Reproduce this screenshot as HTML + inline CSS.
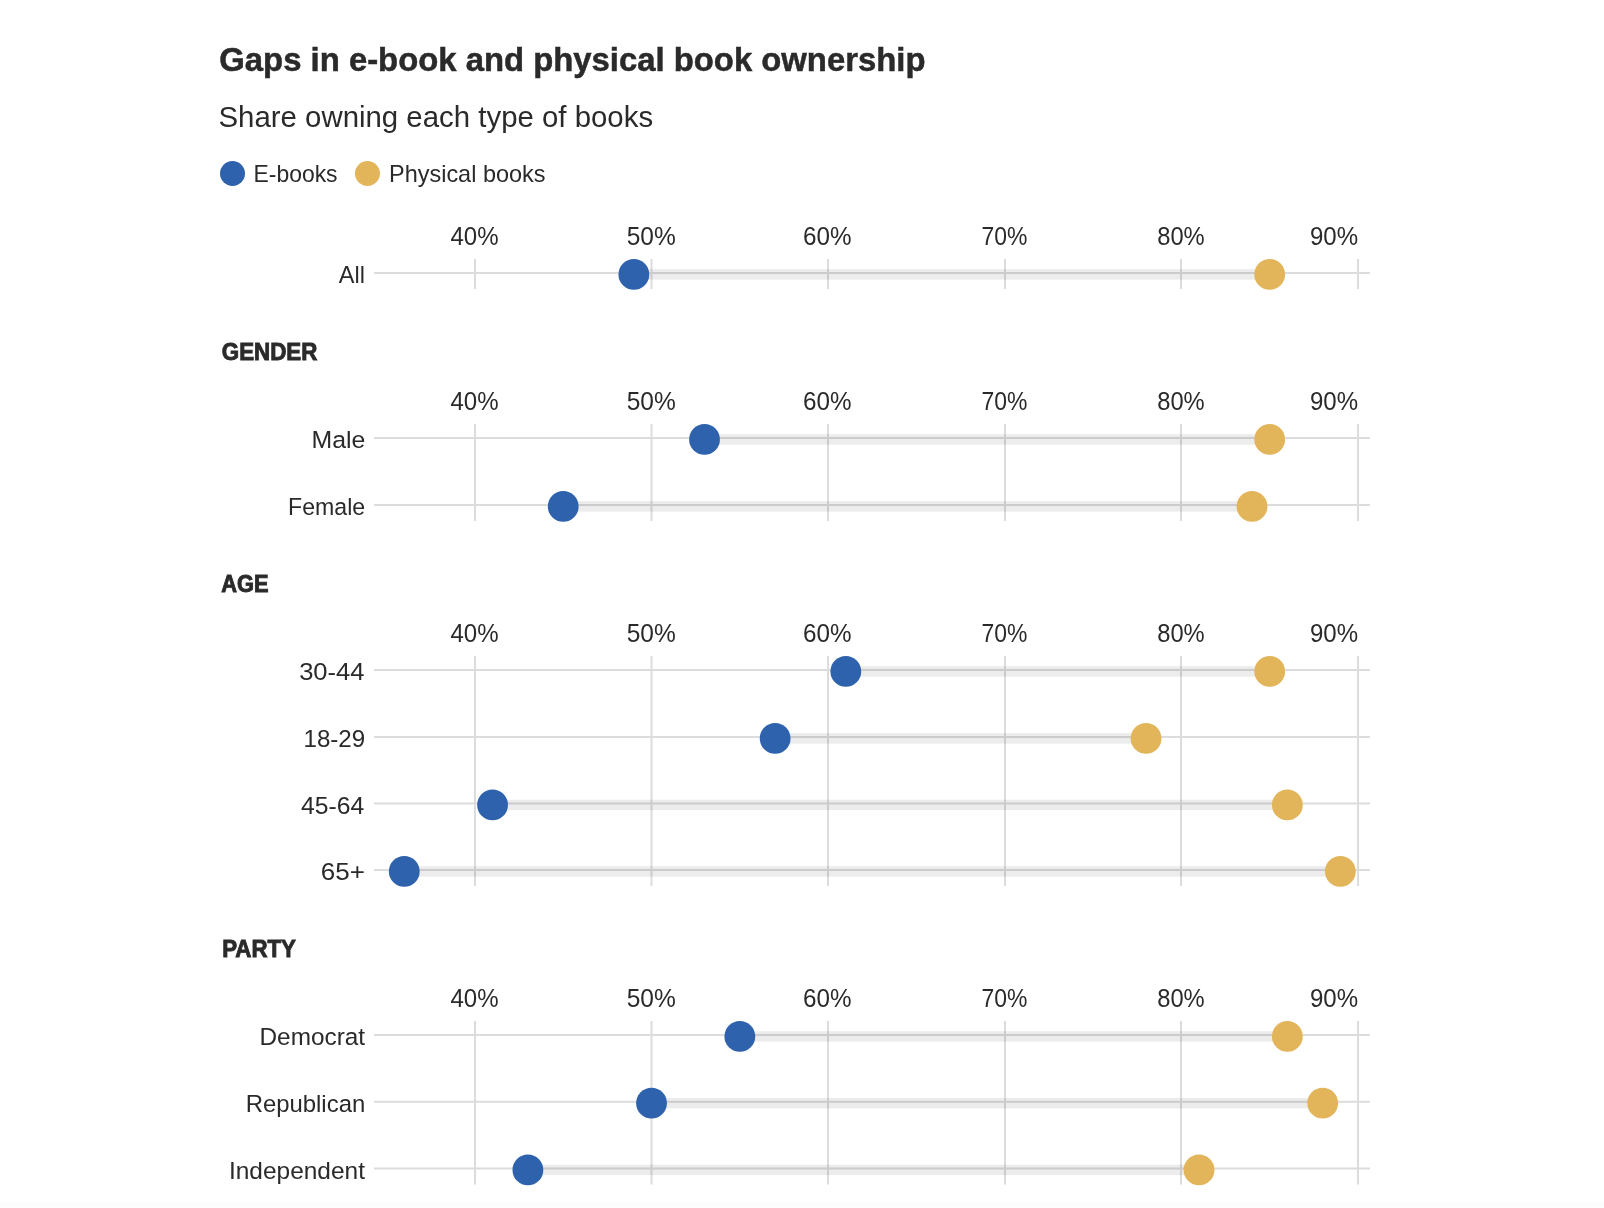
<!DOCTYPE html><html><head><meta charset="utf-8"><style>html,body{margin:0;padding:0;background:#fff;}svg{display:block;will-change:transform;}text{font-family:"Liberation Sans",sans-serif;fill:#2a2a2a;}</style></head><body>
<svg width="1604" height="1208" viewBox="0 0 1604 1208">
<rect width="1604" height="1208" fill="#fff"/><rect y="1202" width="1604" height="6" fill="#fcfcfc"/>
<circle cx="232.5" cy="173.5" r="12.5" fill="#2e62ad"/>
<circle cx="367.45" cy="173.5" r="12.5" fill="#e2b55a"/>
<rect x="474.00" y="259.00" width="2" height="30.00" fill="#dcdcdc"/>
<rect x="650.50" y="259.00" width="2" height="30.00" fill="#dcdcdc"/>
<rect x="827.00" y="259.00" width="2" height="30.00" fill="#dcdcdc"/>
<rect x="1004.00" y="259.00" width="2" height="30.00" fill="#dcdcdc"/>
<rect x="1180.00" y="259.00" width="2" height="30.00" fill="#dcdcdc"/>
<rect x="1357.00" y="259.00" width="2" height="30.00" fill="#dcdcdc"/>
<rect x="374" y="272.00" width="996" height="2" fill="#dcdcdc"/>
<rect x="633.86" y="269.15" width="635.83" height="10.5" fill="rgba(0,0,0,0.075)"/>
<circle cx="633.86" cy="274.40" r="15.4" fill="#2e62ad"/>
<circle cx="1269.69" cy="274.40" r="15.4" fill="#e2b55a"/>
<rect x="474.00" y="424.00" width="2" height="97.00" fill="#dcdcdc"/>
<rect x="650.50" y="424.00" width="2" height="97.00" fill="#dcdcdc"/>
<rect x="827.00" y="424.00" width="2" height="97.00" fill="#dcdcdc"/>
<rect x="1004.00" y="424.00" width="2" height="97.00" fill="#dcdcdc"/>
<rect x="1180.00" y="424.00" width="2" height="97.00" fill="#dcdcdc"/>
<rect x="1357.00" y="424.00" width="2" height="97.00" fill="#dcdcdc"/>
<rect x="374" y="437.00" width="996" height="2" fill="#dcdcdc"/>
<rect x="374" y="504.00" width="996" height="2" fill="#dcdcdc"/>
<rect x="704.51" y="434.15" width="565.18" height="10.5" fill="rgba(0,0,0,0.075)"/>
<circle cx="704.51" cy="439.40" r="15.4" fill="#2e62ad"/>
<circle cx="1269.69" cy="439.40" r="15.4" fill="#e2b55a"/>
<rect x="563.21" y="501.15" width="688.82" height="10.5" fill="rgba(0,0,0,0.075)"/>
<circle cx="563.21" cy="506.40" r="15.4" fill="#2e62ad"/>
<circle cx="1252.03" cy="506.40" r="15.4" fill="#e2b55a"/>
<rect x="474.00" y="656.00" width="2" height="230.00" fill="#dcdcdc"/>
<rect x="650.50" y="656.00" width="2" height="230.00" fill="#dcdcdc"/>
<rect x="827.00" y="656.00" width="2" height="230.00" fill="#dcdcdc"/>
<rect x="1004.00" y="656.00" width="2" height="230.00" fill="#dcdcdc"/>
<rect x="1180.00" y="656.00" width="2" height="230.00" fill="#dcdcdc"/>
<rect x="1357.00" y="656.00" width="2" height="230.00" fill="#dcdcdc"/>
<rect x="374" y="669.00" width="996" height="2" fill="#dcdcdc"/>
<rect x="374" y="736.00" width="996" height="2" fill="#dcdcdc"/>
<rect x="374" y="802.50" width="996" height="2" fill="#dcdcdc"/>
<rect x="374" y="869.00" width="996" height="2" fill="#dcdcdc"/>
<rect x="845.80" y="666.15" width="423.89" height="10.5" fill="rgba(0,0,0,0.075)"/>
<circle cx="845.80" cy="671.40" r="15.4" fill="#2e62ad"/>
<circle cx="1269.69" cy="671.40" r="15.4" fill="#e2b55a"/>
<rect x="775.15" y="733.15" width="370.90" height="10.5" fill="rgba(0,0,0,0.075)"/>
<circle cx="775.15" cy="738.40" r="15.4" fill="#2e62ad"/>
<circle cx="1146.06" cy="738.40" r="15.4" fill="#e2b55a"/>
<rect x="492.56" y="799.65" width="794.79" height="10.5" fill="rgba(0,0,0,0.075)"/>
<circle cx="492.56" cy="804.90" r="15.4" fill="#2e62ad"/>
<circle cx="1287.35" cy="804.90" r="15.4" fill="#e2b55a"/>
<rect x="404.25" y="866.15" width="936.09" height="10.5" fill="rgba(0,0,0,0.075)"/>
<circle cx="404.25" cy="871.40" r="15.4" fill="#2e62ad"/>
<circle cx="1340.34" cy="871.40" r="15.4" fill="#e2b55a"/>
<rect x="474.00" y="1021.00" width="2" height="163.50" fill="#dcdcdc"/>
<rect x="650.50" y="1021.00" width="2" height="163.50" fill="#dcdcdc"/>
<rect x="827.00" y="1021.00" width="2" height="163.50" fill="#dcdcdc"/>
<rect x="1004.00" y="1021.00" width="2" height="163.50" fill="#dcdcdc"/>
<rect x="1180.00" y="1021.00" width="2" height="163.50" fill="#dcdcdc"/>
<rect x="1357.00" y="1021.00" width="2" height="163.50" fill="#dcdcdc"/>
<rect x="374" y="1034.00" width="996" height="2" fill="#dcdcdc"/>
<rect x="374" y="1100.80" width="996" height="2" fill="#dcdcdc"/>
<rect x="374" y="1167.50" width="996" height="2" fill="#dcdcdc"/>
<rect x="739.83" y="1031.15" width="547.52" height="10.5" fill="rgba(0,0,0,0.075)"/>
<circle cx="739.83" cy="1036.40" r="15.4" fill="#2e62ad"/>
<circle cx="1287.35" cy="1036.40" r="15.4" fill="#e2b55a"/>
<rect x="651.52" y="1097.95" width="671.16" height="10.5" fill="rgba(0,0,0,0.075)"/>
<circle cx="651.52" cy="1103.20" r="15.4" fill="#2e62ad"/>
<circle cx="1322.68" cy="1103.20" r="15.4" fill="#e2b55a"/>
<rect x="527.89" y="1164.65" width="671.16" height="10.5" fill="rgba(0,0,0,0.075)"/>
<circle cx="527.89" cy="1169.90" r="15.4" fill="#2e62ad"/>
<circle cx="1199.04" cy="1169.90" r="15.4" fill="#e2b55a"/>
<text font-size="32.4" font-weight="bold" stroke="#2a2a2a" stroke-width="0.5" x="219.32" y="70.90" textLength="706.18" lengthAdjust="spacingAndGlyphs">Gaps in e-book and physical book ownership</text>
<text font-size="29.3" x="218.49" y="126.80" textLength="434.60" lengthAdjust="spacingAndGlyphs">Share owning each type of books</text>
<text font-size="23.2" x="253.52" y="181.80" textLength="84.06" lengthAdjust="spacingAndGlyphs">E-books</text>
<text font-size="23.2" x="389.05" y="181.80" textLength="156.43" lengthAdjust="spacingAndGlyphs">Physical books</text>
<text font-size="24.0" font-weight="bold" stroke="#2a2a2a" stroke-width="0.9" x="221.78" y="360.00" textLength="95.60" lengthAdjust="spacingAndGlyphs">GENDER</text>
<text font-size="24.0" font-weight="bold" stroke="#2a2a2a" stroke-width="0.9" x="221.31" y="591.90" textLength="47.30" lengthAdjust="spacingAndGlyphs">AGE</text>
<text font-size="24.0" font-weight="bold" stroke="#2a2a2a" stroke-width="0.9" x="222.13" y="956.80" textLength="73.84" lengthAdjust="spacingAndGlyphs">PARTY</text>
<text font-size="24.5" x="338.78" y="283.00" textLength="26.09" lengthAdjust="spacingAndGlyphs">All</text>
<text font-size="25" x="450.47" y="245.20" textLength="48.07" lengthAdjust="spacingAndGlyphs">40%</text>
<text font-size="25" x="626.63" y="245.20" textLength="49.08" lengthAdjust="spacingAndGlyphs">50%</text>
<text font-size="25" x="802.99" y="245.20" textLength="48.46" lengthAdjust="spacingAndGlyphs">60%</text>
<text font-size="25" x="981.38" y="245.20" textLength="45.91" lengthAdjust="spacingAndGlyphs">70%</text>
<text font-size="25" x="1157.21" y="245.20" textLength="47.47" lengthAdjust="spacingAndGlyphs">80%</text>
<text font-size="25" x="1309.95" y="245.20" textLength="48.15" lengthAdjust="spacingAndGlyphs">90%</text>
<text font-size="24.5" x="311.46" y="448.00" textLength="53.82" lengthAdjust="spacingAndGlyphs">Male</text>
<text font-size="24.5" x="288.10" y="515.00" textLength="77.06" lengthAdjust="spacingAndGlyphs">Female</text>
<text font-size="25" x="450.47" y="410.20" textLength="48.07" lengthAdjust="spacingAndGlyphs">40%</text>
<text font-size="25" x="626.63" y="410.20" textLength="49.08" lengthAdjust="spacingAndGlyphs">50%</text>
<text font-size="25" x="802.99" y="410.20" textLength="48.46" lengthAdjust="spacingAndGlyphs">60%</text>
<text font-size="25" x="981.38" y="410.20" textLength="45.91" lengthAdjust="spacingAndGlyphs">70%</text>
<text font-size="25" x="1157.21" y="410.20" textLength="47.47" lengthAdjust="spacingAndGlyphs">80%</text>
<text font-size="25" x="1309.95" y="410.20" textLength="48.15" lengthAdjust="spacingAndGlyphs">90%</text>
<text font-size="24.5" x="299.15" y="680.00" textLength="65.41" lengthAdjust="spacingAndGlyphs">30-44</text>
<text font-size="24.5" x="303.48" y="747.00" textLength="61.71" lengthAdjust="spacingAndGlyphs">18-29</text>
<text font-size="24.5" x="300.99" y="813.50" textLength="63.18" lengthAdjust="spacingAndGlyphs">45-64</text>
<text font-size="24.5" x="320.79" y="880.00" textLength="44.11" lengthAdjust="spacingAndGlyphs">65+</text>
<text font-size="25" x="450.47" y="642.20" textLength="48.07" lengthAdjust="spacingAndGlyphs">40%</text>
<text font-size="25" x="626.63" y="642.20" textLength="49.08" lengthAdjust="spacingAndGlyphs">50%</text>
<text font-size="25" x="802.99" y="642.20" textLength="48.46" lengthAdjust="spacingAndGlyphs">60%</text>
<text font-size="25" x="981.38" y="642.20" textLength="45.91" lengthAdjust="spacingAndGlyphs">70%</text>
<text font-size="25" x="1157.21" y="642.20" textLength="47.47" lengthAdjust="spacingAndGlyphs">80%</text>
<text font-size="25" x="1309.95" y="642.20" textLength="48.15" lengthAdjust="spacingAndGlyphs">90%</text>
<text font-size="24.5" x="259.50" y="1045.00" textLength="105.59" lengthAdjust="spacingAndGlyphs">Democrat</text>
<text font-size="24.5" x="245.64" y="1111.80" textLength="119.61" lengthAdjust="spacingAndGlyphs">Republican</text>
<text font-size="24.5" x="228.98" y="1178.50" textLength="135.99" lengthAdjust="spacingAndGlyphs">Independent</text>
<text font-size="25" x="450.47" y="1007.20" textLength="48.07" lengthAdjust="spacingAndGlyphs">40%</text>
<text font-size="25" x="626.63" y="1007.20" textLength="49.08" lengthAdjust="spacingAndGlyphs">50%</text>
<text font-size="25" x="802.99" y="1007.20" textLength="48.46" lengthAdjust="spacingAndGlyphs">60%</text>
<text font-size="25" x="981.38" y="1007.20" textLength="45.91" lengthAdjust="spacingAndGlyphs">70%</text>
<text font-size="25" x="1157.21" y="1007.20" textLength="47.47" lengthAdjust="spacingAndGlyphs">80%</text>
<text font-size="25" x="1309.95" y="1007.20" textLength="48.15" lengthAdjust="spacingAndGlyphs">90%</text>
</svg></body></html>
